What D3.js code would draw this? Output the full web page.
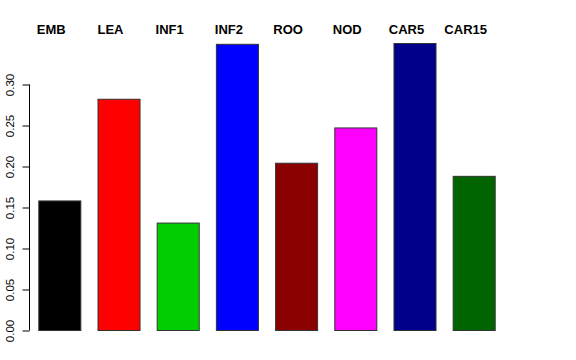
<!DOCTYPE html>
<html><head><meta charset="utf-8">
<script src="https://cdn.jsdelivr.net/npm/d3@7"></script>
<style>body{margin:0;background:#fff}svg{display:block}</style>
</head><body>
<script>
const categories = ["EMB","LEA","INF1","INF2","ROO","NOD","CAR5","CAR15"];
const values = [0.158, 0.282, 0.131, 0.349, 0.204, 0.247, 0.350, 0.188];
const colors = ["#000000","#ff0000","#00cd00","#0000ff","#8b0000","#ff00ff","#00008b","#006400"];
const yTicks = [0, 0.05, 0.10, 0.15, 0.20, 0.25, 0.30];

const W = 576, H = 360;
const svg = d3.select("body").append("svg").attr("width", W).attr("height", H);

const x = d3.scaleBand().domain(categories).range([38.3, 494.7]).paddingInner(0.29).paddingOuter(0);
const y = d3.scaleLinear().domain([0, 0.30]).range([330, 84]);

svg.append("g").selectAll("rect").data(categories).join("rect")
  .attr("x", d => x(d) + 0.5)
  .attr("y", (d, i) => y(values[i]) + 0.5)
  .attr("width", x.bandwidth())
  .attr("height", (d, i) => y(0) - y(values[i]))
  .attr("fill", (d, i) => colors[i])
  .attr("stroke", "#333")
  .attr("stroke-width", 1);

const axis = d3.axisLeft(y).tickValues(yTicks).tickFormat(d3.format(".2f")).tickSize(7).tickPadding(0);
const g = svg.append("g").attr("transform", "translate(29.5,0.5)").call(axis);
g.select(".domain").attr("d", `M-7,${y(0)}H0V${y(0.30)}H-7`).attr("stroke", "#000");
g.select(".domain").attr("d", `M0,${y(0)}V${y(0.30)}`);
g.selectAll(".tick line").attr("stroke", "#000");
g.selectAll(".tick text")
  .attr("font-family", "Liberation Sans, Arial, sans-serif")
  .attr("font-size", 11.5)
  .attr("fill", "#000")
  .attr("text-anchor", "middle")
  .attr("x", null).attr("dy", null)
  .attr("transform", d => `translate(-16,0) rotate(-90)`)
  .attr("y", 0);

svg.append("g").selectAll("text").data(categories).join("text")
  .attr("x", d => x(d) + x.bandwidth() / 2 - 8)
  .attr("y", 34)
  .attr("text-anchor", "middle")
  .attr("font-family", "Liberation Sans, Arial, sans-serif")
  .attr("font-weight", "bold")
  .attr("font-size", 13)
  .attr("fill", "#000")
  .text(d => d);
</script>
</body></html>
